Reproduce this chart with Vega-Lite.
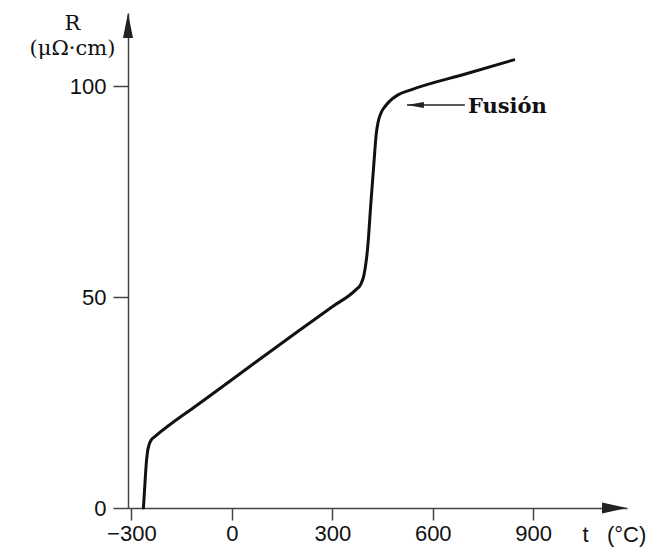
{
  "$schema": "https://vega.github.io/schema/vega-lite/v6.json",
  "autosize": "none",
  "width": 499,
  "height": 495,
  "padding": {"left": 128, "top": 13, "right": 43, "bottom": 41},
  "background": "white",
  "config": {"view": {"stroke": null}},
  "datasets": {
    "curve": [
      {"t": -264, "R": 0},
      {"t": -260, "R": 5},
      {"t": -256, "R": 10},
      {"t": -252, "R": 13.2},
      {"t": -247, "R": 15.0},
      {"t": -240, "R": 16.2},
      {"t": -230, "R": 16.9},
      {"t": -100, "R": 24.6},
      {"t": 0, "R": 30.4},
      {"t": 200, "R": 42},
      {"t": 300, "R": 47.7},
      {"t": 370, "R": 51.7},
      {"t": 385, "R": 53},
      {"t": 394, "R": 55},
      {"t": 406, "R": 62},
      {"t": 415, "R": 72},
      {"t": 425, "R": 82.5},
      {"t": 431, "R": 88.5},
      {"t": 437, "R": 91.5},
      {"t": 446, "R": 93.7},
      {"t": 458, "R": 95.2},
      {"t": 470, "R": 96.3},
      {"t": 496, "R": 97.9},
      {"t": 535, "R": 99.1},
      {"t": 700, "R": 102.9},
      {"t": 842, "R": 106.2}
    ],
    "axisArrowY": [{"t": -310, "R": 117.3}],
    "axisArrowX": [{"t": 1180, "R": 0}],
    "fusionLine": [{"t": 523, "t2": 696, "R": 95.5}],
    "fusionHead": [{"t": 523, "R": 95.5}],
    "fusionText": [{"t": 705, "R": 95.1, "label": "Fusión"}]
  },
  "layer": [
    {
      "data": {"name": "curve"},
      "mark": {"type": "line", "color": "#111", "strokeWidth": 3, "interpolate": "monotone", "strokeCap": "round", "strokeJoin": "round"},
      "encoding": {
        "x": {
          "field": "t", "type": "quantitative",
          "scale": {"domain": [-310, 1180], "nice": false, "zero": false},
          "axis": {
            "values": [-300, 0, 300, 600, 900],
            "grid": false,
            "domainColor": "#444", "domainWidth": 1.5,
            "tickColor": "#444", "tickWidth": 1.5, "tickSize": 12,
            "labelFont": "Liberation Sans", "labelFontSize": 22, "labelColor": "#111", "labelPadding": 3,
            "title": "t\u00a0\u00a0\u00a0(°C)",
            "titleFont": "Liberation Sans", "titleFontSize": 22, "titleFontWeight": "normal", "titleColor": "#111",
            "titleAnchor": "start", "titleAlign": "left", "titleBaseline": "middle",
            "titleX": 454, "titleY": 26
          }
        },
        "y": {
          "field": "R", "type": "quantitative",
          "scale": {"domain": [0, 117.3], "nice": false, "zero": false},
          "axis": {
            "values": [0, 50, 100],
            "grid": false,
            "domainColor": "#444", "domainWidth": 1.5,
            "tickColor": "#444", "tickWidth": 1.5, "tickSize": 15,
            "labelFont": "Liberation Sans", "labelFontSize": 22, "labelColor": "#111", "labelPadding": 7,
            "title": ["R", "(μΩ·cm)"],
            "titleFont": "DejaVu Serif", "titleFontSize": 21, "titleFontWeight": "normal", "titleColor": "#111",
            "titleAngle": 0, "titleAlign": "center", "titleBaseline": "top", "titleLineHeight": 25,
            "titleX": -56, "titleY": -1
          }
        }
      }
    },
    {
      "data": {"name": "axisArrowY"},
      "mark": {"type": "point", "shape": "M0,0L0.8,4L-0.8,4Z", "size": 156, "filled": true, "color": "#222", "opacity": 1},
      "encoding": {"x": {"field": "t", "type": "quantitative"}, "y": {"field": "R", "type": "quantitative"}}
    },
    {
      "data": {"name": "axisArrowX"},
      "mark": {"type": "point", "shape": "M0,0L-4,-0.9L-4,0.9Z", "size": 156, "filled": true, "color": "#222", "opacity": 1},
      "encoding": {"x": {"field": "t", "type": "quantitative"}, "y": {"field": "R", "type": "quantitative"}}
    },
    {
      "data": {"name": "fusionLine"},
      "mark": {"type": "rule", "color": "#222", "strokeWidth": 1.3},
      "encoding": {"x": {"field": "t", "type": "quantitative"}, "x2": {"field": "t2"}, "y": {"field": "R", "type": "quantitative"}}
    },
    {
      "data": {"name": "fusionHead"},
      "mark": {"type": "point", "shape": "M0,0L4,-0.7L4,0.7Z", "size": 72, "filled": true, "color": "#222", "opacity": 1},
      "encoding": {"x": {"field": "t", "type": "quantitative"}, "y": {"field": "R", "type": "quantitative"}}
    },
    {
      "data": {"name": "fusionText"},
      "mark": {"type": "text", "font": "DejaVu Serif", "fontSize": 21, "fontWeight": "bold", "align": "left", "baseline": "middle", "color": "#111"},
      "encoding": {"x": {"field": "t", "type": "quantitative"}, "y": {"field": "R", "type": "quantitative"}, "text": {"field": "label"}}
    }
  ]
}
